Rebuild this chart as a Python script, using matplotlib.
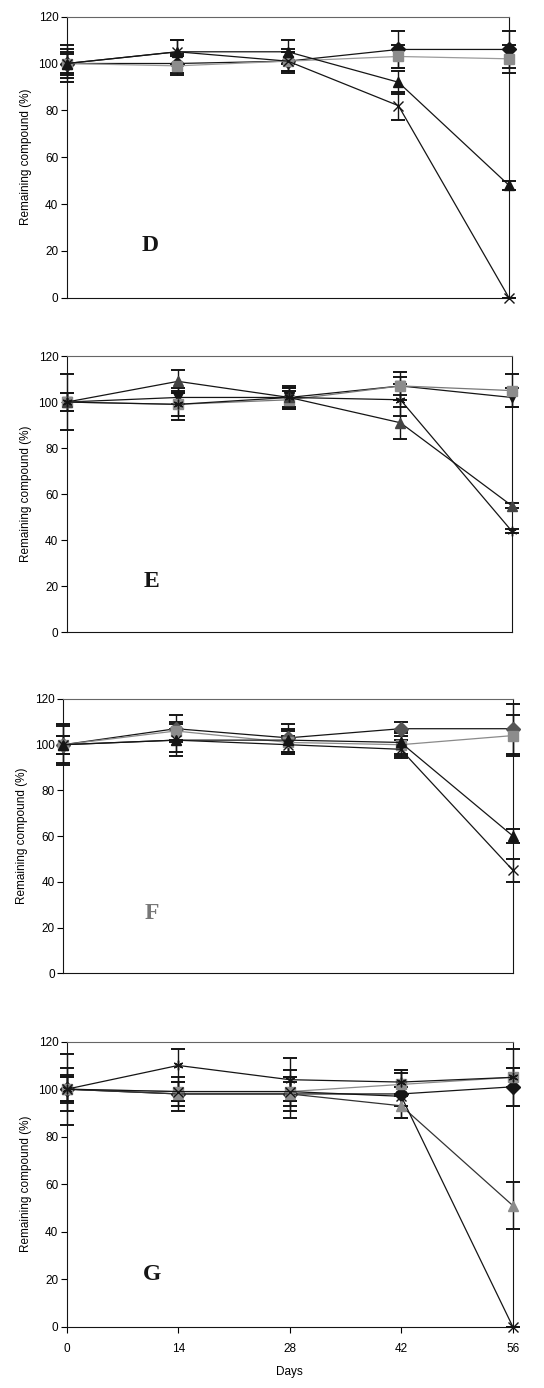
import numpy as np
import matplotlib.pyplot as plt

plt.rcParams['font.family'] = ['Liberation Sans', 'DejaVu Sans']

# sampling days
days = [0, 14, 28, 42, 56]

# panel D
d_diamond = [100, 100, 101, 106, 106]
d_diamond_err = [6, 4, 4, 8, 8]
d_square = [100, 99, 101, 103, 102]
d_square_err = [5, 4, 4, 5, 6]
d_triangle = [100, 105, 105, 92, 48]
d_triangle_err = [8, 5, 5, 5, 2]
d_cross = [100, 105, 101, 82, 0]
d_cross_err = [4, 5, 5, 6, 0]

# panel E
e_diamond = [100, 102, 102, 107, 102]
e_diamond_err = [4, 3, 4, 6, 4]
e_square = [100, 99, 101, 107, 105]
e_square_err = [4, 5, 4, 4, 7]
e_triangle = [100, 109, 102, 91, 55]
e_triangle_err = [12, 5, 5, 7, 1]
e_cross = [100, 99, 102, 101, 44]
e_cross_err = [4, 7, 4, 7, 1]

# panel F
f_diamond = [100, 107, 103, 107, 107]
f_diamond_err = [4, 6, 6, 3, 11]
f_square = [100, 106, 101, 100, 104]
f_square_err = [9, 4, 5, 5, 9]
f_triangle = [100, 102, 102, 101, 60]
f_triangle_err = [4, 5, 5, 5, 3]
f_cross = [100, 102, 100, 98, 45]
f_cross_err = [8, 7, 4, 4, 5]

# panel G
g_diamond = [100, 98, 98, 98, 101]
g_diamond_err = [6, 5, 7, 10, 8]
g_square = [100, 99, 99, 102, 105]
g_square_err = [5, 4, 6, 5, 12]
g_triangle = [100, 98, 98, 93, 51]
g_triangle_err = [9, 7, 10, 5, 10]
g_cross = [100, 99, 99, 97, 0]
g_cross_err = [15, 4, 4, 4, 0]
g_star = [100, 110, 104, 103, 105]
g_star_err = [5, 7, 9, 5, 4]

BLACK = '#151515'
GRAY = '#8c8c8c'
STAR = (6, 2, 0)

# (values, errors, marker, marker colour, line colour)
panels = [
    ('D', [0.1226, 0.7855, 0.813, 0.2025], (10.5, 22.5), BLACK, [
        (d_diamond, d_diamond_err, 'D', BLACK, BLACK),
        (d_square, d_square_err, 's', GRAY, '#9a9a9a'),
        (d_triangle, d_triangle_err, '^', BLACK, BLACK),
        (d_cross, d_cross_err, 'x', BLACK, BLACK)]),
    ('E', [0.1226, 0.5445, 0.818, 0.199], (10.7, 22), BLACK, [
        (e_diamond, e_diamond_err, 'v', BLACK, BLACK),
        (e_square, e_square_err, 's', GRAY, '#777777'),
        (e_triangle, e_triangle_err, '^', '#444444', BLACK),
        (e_cross, e_cross_err, STAR, BLACK, BLACK)]),
    ('F', [0.1164, 0.2988, 0.8267, 0.1976], (11, 26), '#777777', [
        (f_diamond, f_diamond_err, 'D', '#555555', BLACK),
        (f_square, f_square_err, 's', GRAY, '#8a8a8a'),
        (f_triangle, f_triangle_err, '^', BLACK, BLACK),
        (f_cross, f_cross_err, 'x', BLACK, BLACK)]),
    ('G', [0.1226, 0.0442, 0.82, 0.2053], (10.7, 21.8), BLACK, [
        (g_diamond, g_diamond_err, 'D', BLACK, BLACK),
        (g_square, g_square_err, 's', GRAY, '#8a8a8a'),
        (g_triangle, g_triangle_err, '^', GRAY, '#333333'),
        (g_cross, g_cross_err, 'x', BLACK, BLACK),
        (g_star, g_star_err, STAR, BLACK, BLACK)]),
]

fig = plt.figure(figsize=(5.44, 13.88), dpi=100)

for i, (letter, rect, pos, lcolor, series) in enumerate(panels):
    ax = fig.add_axes(rect)
    for vals, err, mk, mcol, lcol in series:
        ax.errorbar(days, vals, yerr=err, color=lcol, ecolor=BLACK,
                    marker=mk, markersize=7, markerfacecolor=mcol,
                    markeredgecolor=mcol, lw=0.9, elinewidth=1,
                    capsize=5, capthick=1.4, clip_on=False, zorder=3)
    ax.set_xlim(0, 56)
    ax.set_ylim(0, 120)
    ax.set_yticks(np.arange(0, 121, 20))
    ax.set_xticks(days)
    ax.tick_params(axis='y', direction='out', length=4, width=0.8,
                   labelsize=8.5, pad=2)
    last = i == len(panels) - 1
    if last:
        ax.tick_params(axis='x', direction='out', length=4, width=0.8,
                       labelsize=8.5, pad=8)
        ax.set_xlabel('Days', fontsize=8.5, labelpad=8)
    else:
        ax.tick_params(axis='x', length=0, labelbottom=False)
    for side in ['left', 'bottom', 'right']:
        ax.spines[side].set_linewidth(0.8)
        ax.spines[side].set_color(BLACK)
    ax.spines['top'].set_linewidth(0.8)
    ax.spines['top'].set_color('#666666')
    ax.set_ylabel('Remaining compound (%)', fontsize=8.5, labelpad=5)
    ax.text(pos[0], pos[1], letter, fontsize=17, fontweight='bold',
            family=['Liberation Serif', 'DejaVu Serif'], color=lcolor,
            ha='center', va='center')

fig.savefig('out.png', dpi=100)
